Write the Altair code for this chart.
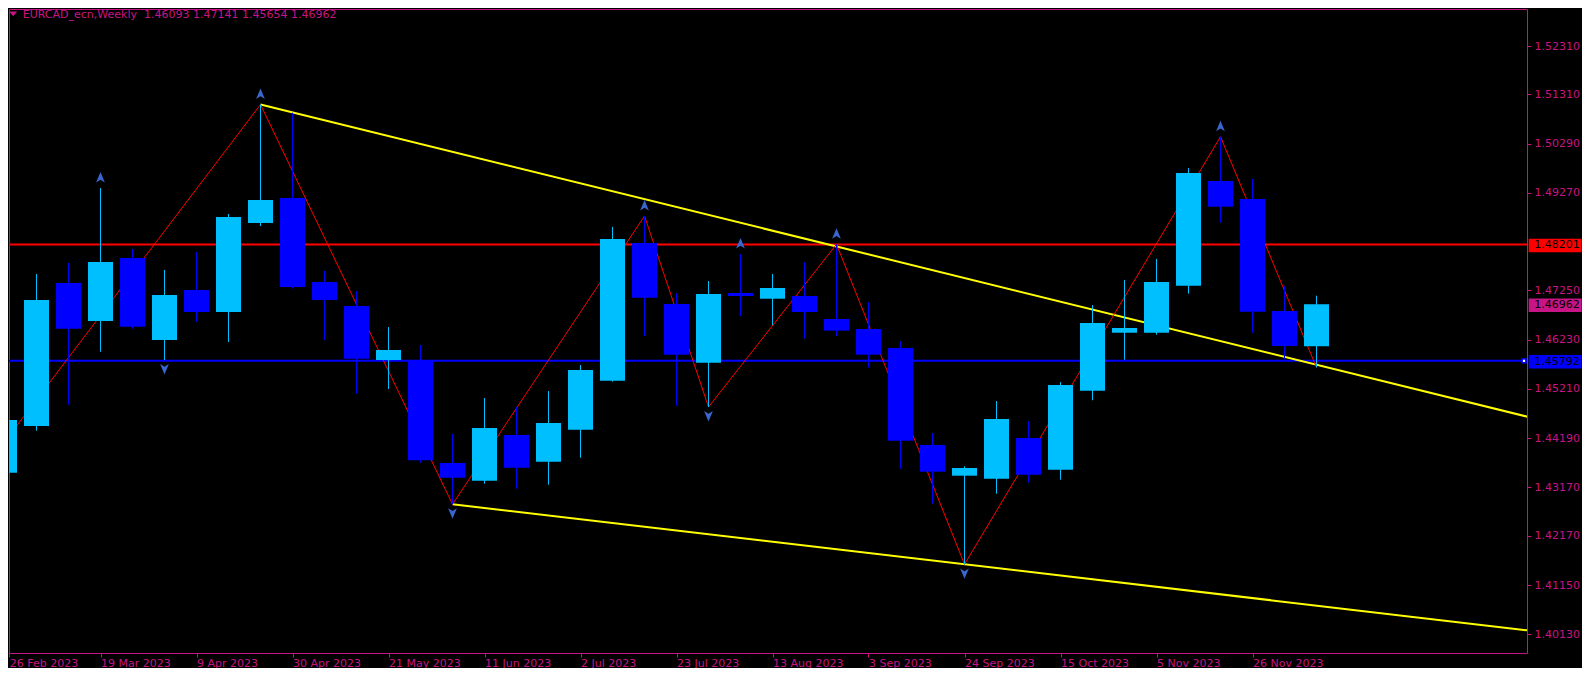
import altair as alt
import pandas as pd

# ---------------- data ----------------
bar_index = list(range(42))  # weekly bars, 0 = 26 Feb 2023 ... 41 = 10 Dec 2023
opens = [1.43476, 1.44443, 1.47403, 1.46617, 1.47921, 1.46223, 1.47259, 1.46803, 1.48646, 1.49163,
         1.47424, 1.46927, 1.45809, 1.45788, 1.43677, 1.43310, 1.44256, 1.43704, 1.44366, 1.45381,
         1.48232, 1.46969, 1.45753, 1.47197, 1.47078, 1.47134, 1.46658, 1.46451, 1.46058, 1.44051,
         1.43414, 1.43352, 1.44194, 1.43538, 1.45173, 1.46374, 1.46374, 1.47348, 1.49515, 1.49143,
         1.46824, 1.46093]
highs = [1.45510, 1.47590, 1.47818, 1.49370, 1.48108, 1.47673, 1.48045, 1.48832, 1.51099, 1.50929,
         1.47652, 1.47238, 1.46492, 1.46120, 1.44277, 1.45021, 1.44835, 1.45167, 1.45706, 1.48563,
         1.48791, 1.47197, 1.47445, 1.48004, 1.47590, 1.47838, 1.48205, 1.47010, 1.46204, 1.44298,
         1.43608, 1.44960, 1.44547, 1.45350, 1.46948, 1.47466, 1.47901, 1.49784, 1.50432, 1.49557,
         1.47342, 1.47141]
lows = [1.43242, 1.44346, 1.44884, 1.45981, 1.46457, 1.45809, 1.46596, 1.46182, 1.48583, 1.47290,
        1.46223, 1.45111, 1.45209, 1.43683, 1.42822, 1.43248, 1.43145, 1.43227, 1.43787, 1.45360,
        1.46306, 1.44860, 1.44836, 1.46720, 1.46534, 1.46251, 1.46306, 1.45650, 1.43559, 1.42834,
        1.41579, 1.43041, 1.43269, 1.43331, 1.44975, 1.45815, 1.46333, 1.47182, 1.48652, 1.46374,
        1.45824, 1.45654]
closes = [1.44567, 1.47052, 1.46457, 1.47838, 1.46499, 1.47155, 1.46803, 1.48770, 1.49122, 1.47321,
          1.47052, 1.45836, 1.46016, 1.43733, 1.43372, 1.44401, 1.43579, 1.44505, 1.45602, 1.48315,
          1.47100, 1.45919, 1.47176, 1.47134, 1.47300, 1.46803, 1.46417, 1.45919, 1.44139, 1.43497,
          1.43573, 1.44588, 1.43434, 1.45292, 1.46575, 1.46472, 1.47424, 1.49681, 1.48983, 1.46809,
          1.46099, 1.46962]

tick_index = [0.15, 3, 6, 9, 12, 15, 18, 21, 24, 27, 30, 33, 36, 39]
tick_labels = ["26 Feb 2023", "19 Mar 2023", "9 Apr 2023", "30 Apr 2023", "21 May 2023",
               "11 Jun 2023", "2 Jul 2023", "23 Jul 2023", "13 Aug 2023", "3 Sep 2023",
               "24 Sep 2023", "15 Oct 2023", "5 Nov 2023", "26 Nov 2023"]
price_ticks = [1.52310, 1.51310, 1.50290, 1.49270, 1.47250, 1.46230,
               1.45210, 1.44190, 1.43170, 1.42170, 1.41150, 1.40130]

zigzag_index = [-1, 8, 14, 20, 22, 26, 30, 38, 41]
zigzag_price = [1.43240, 1.51099, 1.42822, 1.48791, 1.44836, 1.48205, 1.41579, 1.50432, 1.45654]

up_arrow_index = [3, 8, 20, 23, 26, 38]
down_arrow_index = [5, 14, 22, 30]

upper_trend_index = [8, 26]
upper_trend_price = [1.51099, 1.48160]
lower_trend_index = [14, 30]
lower_trend_price = [1.42822, 1.41579]

red_level = 1.48201
blue_level = 1.45792
symbol_name = "EURCAD_ecn,Weekly"

# ---------------- styling ----------------
MAG = "#c71585"
FONT = "DejaVu Sans"
X_DOMAIN = [0.140625, 47.578125]
Y_DOMAIN = [1.397430, 1.530764]

candles = pd.DataFrame({"i": bar_index, "o": opens, "h": highs, "l": lows, "c": closes})
candles["dir"] = ["up" if c >= o else "down" for o, c in zip(opens, closes)]

xs = alt.Scale(domain=X_DOMAIN, nice=False, zero=False, padding=0)
ys = alt.Scale(domain=Y_DOMAIN, nice=False, zero=False, padding=0)
label_arr = "[" + ",".join("'%s'" % t for t in tick_labels) + "]"

x_axis = alt.Axis(values=tick_index, labelExpr=label_arr + "[round(datum.value/3)]",
                  labelAlign="left", labelBaseline="top", labelPadding=0, tickSize=4,
                  labelFlush=False, labelOverlap=False, grid=False, domain=False,
                  tickColor=MAG, labelColor=MAG, labelFont=FONT, labelFontSize=11, title=None)
y_axis = alt.Axis(orient="right", values=price_ticks, format=".5f", labelPadding=3, tickSize=4,
                  labelOverlap=False, grid=False, domain=False, tickColor=MAG, labelColor=MAG,
                  labelFont=FONT, labelFontSize=11, labelBaseline="middle", title=None)


def X(field):
    return alt.X(field, scale=xs, axis=x_axis, title=None)


def Y(field):
    return alt.Y(field, scale=ys, axis=y_axis, title=None)


cscale = alt.Scale(domain=["up", "down"], range=["#00bfff", "#0000ff"])

wicks = alt.Chart(candles).mark_rule(strokeWidth=1, clip=True).encode(
    x=X("i:Q"), y=Y("l:Q"), y2="h:Q",
    color=alt.Color("dir:N", scale=cscale, legend=None),
)
bodies = alt.Chart(candles).mark_bar(size=25, clip=True).encode(
    x=X("i:Q"), y=Y("o:Q"), y2="c:Q",
    color=alt.Color("dir:N", scale=cscale, legend=None),
)

levels = pd.DataFrame({"p": [red_level, blue_level], "col": ["#ff0000", "#0000ff"]})
hlines = alt.Chart(levels).mark_rule(strokeWidth=2).encode(
    y=Y("p:Q"), color=alt.Color("col:N", scale=None),
)

zz = pd.DataFrame({"i": zigzag_index, "p": zigzag_price})
zigzag = alt.Chart(zz).mark_line(color="#ff0000", strokeWidth=1, clip=True).encode(
    x=X("i:Q"), y=Y("p:Q"),
)


def ray(ix, pr, name, end=50):
    slope = (pr[1] - pr[0]) / (ix[1] - ix[0])
    return pd.DataFrame({"i": [ix[0], end], "p": [pr[0], pr[0] + slope * (end - ix[0])], "k": name})


trend = pd.concat([ray(upper_trend_index, upper_trend_price, "u"),
                   ray(lower_trend_index, lower_trend_price, "l")])
trends = alt.Chart(trend).mark_line(color="#ffff00", strokeWidth=2, clip=True).encode(
    x=X("i:Q"), y=Y("p:Q"), detail="k:N",
)

up_df = candles[candles.i.isin(up_arrow_index)]
dn_df = candles[candles.i.isin(down_arrow_index)]
UP_PATH = "M0,-1L0.8,0.9L0,0.4L-0.8,0.9Z"
DN_PATH = "M0,1L0.8,-0.9L0,-0.4L-0.8,-0.9Z"
up_arrows = alt.Chart(up_df).mark_point(shape=UP_PATH, size=120, filled=True, opacity=1,
                                        color="#3a66d0", yOffset=-10.5).encode(
    x=X("i:Q"), y=Y("h:Q"))
dn_arrows = alt.Chart(dn_df).mark_point(shape=DN_PATH, size=120, filled=True, opacity=1,
                                        color="#3a66d0", yOffset=9).encode(
    x=X("i:Q"), y=Y("l:Q"))

# end marker of the blue horizontal line
mk = pd.DataFrame({"p": [blue_level]})
marker_o = alt.Chart(mk).mark_point(shape="square", size=30, filled=True, opacity=1,
                                    color="#0000ff").encode(x=alt.value(1515), y=Y("p:Q"))
marker_i = alt.Chart(mk).mark_point(shape="square", size=5, filled=True, opacity=1,
                                    color="#ffffff").encode(x=alt.value(1515), y=Y("p:Q"))

# price labels on the right axis
boxes = pd.DataFrame({
    "p": [red_level, closes[-1], blue_level],
    "t": ["%.5f" % red_level, "%.5f" % closes[-1], "%.5f" % blue_level],
    "col": ["#ff0000", MAG, "#0000ff"],
})
BOX_PATH = "M-1,-0.255L1,-0.255L1,0.255L-1,0.255Z"
box_marks = alt.Chart(boxes).mark_point(shape=BOX_PATH, size=53 * 53, filled=True, opacity=1,
                                        strokeWidth=0, yOffset=1).encode(
    x=alt.value(1546.2), y=Y("p:Q"), color=alt.Color("col:N", scale=None))
box_text = alt.Chart(boxes).mark_text(align="left", baseline="middle", font=FONT, fontSize=11,
                                      color="#000000", yOffset=1).encode(
    x=alt.value(1525.3), y=Y("p:Q"), text="t:N")

# header text
hdr = pd.DataFrame({"t": [symbol_name + "\u00a0 " + " ".join("%.5f" % v for v in
                                                           (opens[-1], highs[-1], lows[-1], closes[-1]))]})
header = alt.Chart(hdr).mark_text(align="left", baseline="middle", font=FONT, fontSize=11,
                                  color=MAG).encode(x=alt.value(13.7), y=alt.value(5.8), text="t:N")
tri = alt.Chart(hdr).mark_point(shape="M-1,-0.6L1,-0.6L0,0.6Z", size=64, filled=True, opacity=1,
                                color=MAG).encode(x=alt.value(4.2), y=alt.value(4.8))

chart = alt.layer(
    hlines, trends, zigzag, wicks, bodies, up_arrows, dn_arrows,
    marker_o, marker_i, box_marks, box_text, header, tri
).properties(
    width=1518, height=644, padding={"left": 0, "top": 0, "right": 0, "bottom": 0}
).configure(background="#000000").configure_view(stroke=MAG, strokeWidth=1)

chart.save("out.html", embed_options={"renderer": "svg", "actions": False})
